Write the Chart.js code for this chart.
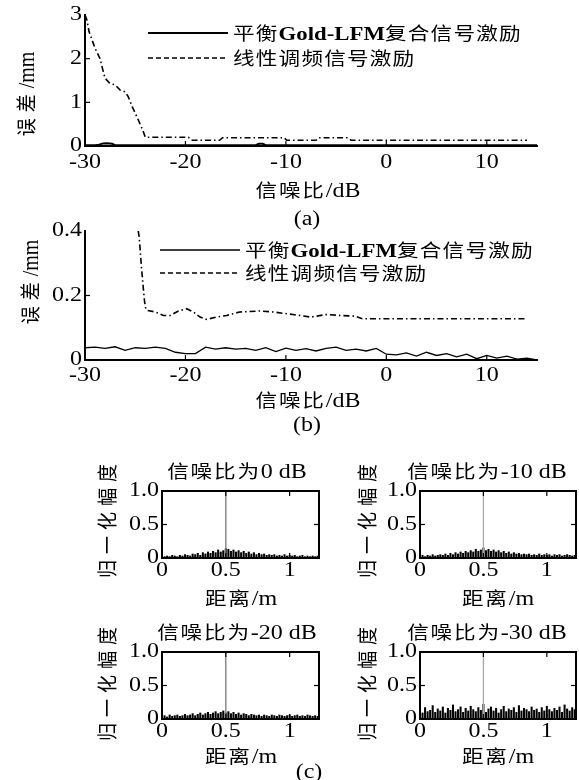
<!DOCTYPE html>
<html><head><meta charset="utf-8">
<script src="https://cdn.jsdelivr.net/npm/chart.js@4.4.0/dist/chart.umd.min.js"></script>
<style>
html,body{margin:0;padding:0;background:#fff;}
#wrap{position:relative;width:579px;height:780px;overflow:hidden;background:#fff;}
#wrap canvas{position:absolute;left:0;top:0;}
.t{position:absolute;white-space:nowrap;font-family:'Liberation Serif','Noto Sans CJK SC',serif;font-size:20px;color:#000;line-height:1;transform:translate(-50%,-50%) scaleX(1.2);}
.l{position:absolute;white-space:nowrap;font-family:'Liberation Serif','Noto Sans CJK SC',serif;font-size:19px;color:#000;line-height:1;transform-origin:0 50%;transform:translate(0,-50%) scaleX(1.2);}
.r{transform:translate(-50%,-50%) scaleX(1.15) rotate(-90deg);}
.cj{font-family:'Noto Sans CJK SC',sans-serif;font-size:18px;letter-spacing:1.5px;}
.r .cj{letter-spacing:6px;}
.l .cj{letter-spacing:1px;}
b{font-weight:bold;}
</style></head>
<body>
<div id="wrap">
  <!-- (a) -->
  <div class="l" style="left:233px;top:33px;"><span class="cj">平衡</span><b>Gold-LFM</b><span class="cj">复合信号激励</span></div>
  <div class="l" style="left:233px;top:58px;"><span class="cj">线性调频信号激励</span></div>
  <div class="t r" style="left:26px;top:94px;"><span class="cj">误差</span>/mm</div>
  <div class="t" style="left:308px;top:190px;"><span class="cj">信噪比</span>/dB</div>
  <div class="t" style="left:307px;top:218px;">(a)</div>
  <!-- (b) -->
  <div class="l" style="left:245px;top:250px;"><span class="cj">平衡</span><b>Gold-LFM</b><span class="cj">复合信号激励</span></div>
  <div class="l" style="left:245px;top:273px;"><span class="cj">线性调频信号激励</span></div>
  <div class="t r" style="left:30px;top:282px;"><span class="cj">误差</span>/mm</div>
  <div class="t" style="left:308px;top:400px;"><span class="cj">信噪比</span>/dB</div>
  <div class="t" style="left:307px;top:424px;">(b)</div>
  <!-- (c) -->
  <div class="t" style="left:237px;top:471px;"><span class="cj">信噪比为</span>0 dB</div>
  <div class="t" style="left:487px;top:471px;"><span class="cj">信噪比为</span>-10 dB</div>
  <div class="t" style="left:237px;top:632px;"><span class="cj">信噪比为</span>-20 dB</div>
  <div class="t" style="left:487px;top:632px;"><span class="cj">信噪比为</span>-30 dB</div>
  <div class="t r" style="left:107px;top:518px;"><span class="cj">归一化幅度</span></div>
  <div class="t r" style="left:367px;top:518px;"><span class="cj">归一化幅度</span></div>
  <div class="t r" style="left:107px;top:681px;"><span class="cj">归一化幅度</span></div>
  <div class="t r" style="left:367px;top:681px;"><span class="cj">归一化幅度</span></div>
  <div class="t" style="left:241px;top:598px;"><span class="cj">距离</span>/m</div>
  <div class="t" style="left:498px;top:598px;"><span class="cj">距离</span>/m</div>
  <div class="t" style="left:241px;top:756px;"><span class="cj">距离</span>/m</div>
  <div class="t" style="left:498px;top:756px;"><span class="cj">距离</span>/m</div>
  <div class="t" style="left:309px;top:771px;">(c)</div>
</div>
<script>
// ---------- data ----------
const seriesNames = ['平衡Gold-LFM复合信号激励', '线性调频信号激励'];

// (a) error vs SNR
const snrLfmA = [-30, -29.8, -29.6, -29.3, -29, -28.5, -28.3, -28, -27.5, -27, -26.5, -26, -25.7, -25.3, -25, -24.7, -24.4, -24.2, -24, -19.7, -19.4, -16.6, -16.3, -10.2, -9.9, -7, -6.7, -3.8, -3.5, 14];
const errLfmA = [3.0, 2.88, 2.62, 2.43, 2.24, 2.0, 1.81, 1.55, 1.43, 1.40, 1.28, 1.24, 1.13, 0.90, 0.75, 0.60, 0.44, 0.33, 0.20, 0.20, 0.13, 0.13, 0.19, 0.19, 0.13, 0.13, 0.19, 0.19, 0.13, 0.13];
const snrGoldA = [-30, -29, -28.6, -28.2, -27.8, -27.3, -27, -26, -14, -13, -12.7, -12.3, -12, -11, 15];
const errGoldA = [0.02, 0.02, 0.03, 0.06, 0.065, 0.05, 0.02, 0.02, 0.02, 0.02, 0.05, 0.05, 0.02, 0.02, 0.02];

// (b) error vs SNR (zoomed)
const snrLfmB = [-24.7, -24.6, -24.36, -24.1, -24.0, -23.86, -23.0, -22.2, -21.5, -20.7, -19.9, -19.2, -18.55, -17.9, -16.9, -15.9, -14.6, -12.6, -11.3, -9.3, -7.5, -6.0, -4.5, -3.1, -2.4, 14];
const errLfmB = [0.40, 0.38, 0.28, 0.19, 0.164, 0.154, 0.149, 0.138, 0.138, 0.152, 0.159, 0.149, 0.133, 0.126, 0.133, 0.138, 0.149, 0.152, 0.149, 0.141, 0.133, 0.141, 0.138, 0.136, 0.128, 0.128];
const snrGoldB = [-30, -29, -28, -27, -26, -25, -24, -23, -22, -21, -20, -19, -18, -17, -16, -15, -14, -13, -12, -11, -10, -9, -8, -7, -6, -5, -4, -3, -2, -1, 0, 1, 2, 3, 4, 5, 6, 7, 8, 9, 10, 11, 12, 13, 14, 15];
const errGoldB = [0.038, 0.040, 0.036, 0.041, 0.030, 0.038, 0.036, 0.040, 0.036, 0.024, 0.020, 0.020, 0.040, 0.034, 0.038, 0.034, 0.036, 0.030, 0.038, 0.026, 0.037, 0.030, 0.035, 0.028, 0.036, 0.040, 0.030, 0.034, 0.028, 0.036, 0.018, 0.016, 0.022, 0.012, 0.024, 0.014, 0.020, 0.010, 0.018, 0.004, 0.014, 0.006, 0.012, 0.003, 0.006, 0.000];

const snrTicks = [-30, -20, -10, 0, 10];
const snrTickLabels = ['-30', '-20', '-10', '0', '10'];
const errTicksA = [0, 1, 2, 3];
const errTickLabelsA = ['0', '1', '2', '3'];
const errTicksB = [0, 0.2, 0.4];
const errTickLabelsB = ['0', '0.2', '0.4'];

// (c) normalised correlation amplitude vs distance
const distC = [0, 0.02, 0.04, 0.06, 0.08, 0.1, 0.12, 0.14, 0.16, 0.18, 0.2, 0.22, 0.24, 0.26, 0.28, 0.3, 0.32, 0.34, 0.36, 0.38, 0.4, 0.42, 0.44, 0.46, 0.48, 0.5, 0.52, 0.54, 0.56, 0.58, 0.6, 0.62, 0.64, 0.66, 0.68, 0.7, 0.72, 0.74, 0.76, 0.78, 0.8, 0.82, 0.84, 0.86, 0.88, 0.9, 0.92, 0.94, 0.96, 0.98, 1, 1.02, 1.04, 1.06, 1.08, 1.1, 1.12, 1.14, 1.16, 1.18, 1.2, 1.22];
const ampSnr0 = [0.03, 0.02, 0.03, 0.02, 0.04, 0.03, 0.02, 0.04, 0.03, 0.05, 0.04, 0.03, 0.06, 0.05, 0.07, 0.04, 0.08, 0.06, 0.09, 0.07, 0.10, 0.08, 0.12, 0.09, 0.11, 0.14, 0.13, 0.10, 0.12, 0.09, 0.11, 0.08, 0.10, 0.07, 0.09, 0.06, 0.08, 0.05, 0.07, 0.05, 0.06, 0.04, 0.05, 0.04, 0.05, 0.03, 0.04, 0.03, 0.05, 0.03, 0.04, 0.03, 0.04, 0.02, 0.03, 0.04, 0.02, 0.03, 0.02, 0.03, 0.02, 0.03];
const ampSnrM10 = [0.03, 0.04, 0.02, 0.04, 0.03, 0.05, 0.03, 0.04, 0.05, 0.04, 0.06, 0.04, 0.07, 0.05, 0.08, 0.06, 0.09, 0.07, 0.10, 0.08, 0.11, 0.09, 0.13, 0.10, 0.12, 0.15, 0.11, 0.13, 0.10, 0.12, 0.09, 0.11, 0.08, 0.10, 0.07, 0.09, 0.06, 0.08, 0.06, 0.07, 0.05, 0.06, 0.05, 0.06, 0.04, 0.05, 0.04, 0.06, 0.04, 0.05, 0.04, 0.05, 0.03, 0.05, 0.04, 0.05, 0.03, 0.04, 0.05, 0.04, 0.03, 0.04];
const ampSnrM20 = [0.04, 0.05, 0.03, 0.06, 0.04, 0.05, 0.06, 0.04, 0.05, 0.07, 0.05, 0.06, 0.08, 0.05, 0.07, 0.09, 0.06, 0.08, 0.10, 0.07, 0.09, 0.11, 0.08, 0.10, 0.12, 0.09, 0.11, 0.08, 0.10, 0.07, 0.09, 0.06, 0.08, 0.07, 0.05, 0.07, 0.06, 0.05, 0.06, 0.04, 0.06, 0.05, 0.04, 0.06, 0.05, 0.04, 0.06, 0.05, 0.04, 0.05, 0.06, 0.04, 0.05, 0.06, 0.04, 0.05, 0.04, 0.06, 0.05, 0.04, 0.05, 0.04];
const ampSnrM30 = [0.14, 0.09, 0.17, 0.11, 0.13, 0.20, 0.10, 0.15, 0.12, 0.18, 0.09, 0.16, 0.13, 0.21, 0.11, 0.14, 0.18, 0.10, 0.16, 0.12, 0.19, 0.14, 0.11, 0.17, 0.13, 0.22, 0.10, 0.15, 0.18, 0.12, 0.16, 0.09, 0.14, 0.19, 0.11, 0.15, 0.13, 0.17, 0.10, 0.20, 0.12, 0.16, 0.14, 0.11, 0.18, 0.13, 0.15, 0.10, 0.17, 0.12, 0.19, 0.14, 0.11, 0.16, 0.13, 0.18, 0.10, 0.21, 0.15, 0.12, 0.17, 0.14];
const peakDist = [0.5, 0.5];
const peakAmp = [0, 1];
const distTicks = [0, 0.5, 1];
const distTickLabels = ['0', '0.5', '1'];
const ampTicks = [0, 0.5, 1];
const ampTickLabels = ['0', '0.5', '1.0'];

// ---------- helpers ----------
const pts = (xs, ys) => xs.map((x, i) => ({x: x, y: ys[i]}));
const wrap = document.getElementById('wrap');
const SX = 1.2;

const innerTicks = {
  id: 'innerTicks',
  afterDatasetsDraw(chart, args, o) {
    const {ctx, chartArea: a, scales: {x, y}} = chart;
    const L = o.len || 5;
    ctx.save();
    ctx.strokeStyle = '#000';
    ctx.lineWidth = 1.2;
    const seg = (x1, y1, x2, y2) => { ctx.beginPath(); ctx.moveTo(x1, y1); ctx.lineTo(x2, y2); ctx.stroke(); };
    x.ticks.forEach(t => {
      const p = x.getPixelForValue(t.value);
      if (Math.abs(p - a.left) < 2 || Math.abs(p - a.right) < 2) return;
      seg(p, a.bottom, p, a.bottom - L);
      if (o.box) seg(p, a.top, p, a.top + L);
    });
    y.ticks.forEach(t => {
      const p = y.getPixelForValue(t.value);
      if (Math.abs(p - a.bottom) < 2 || Math.abs(p - a.top) < 2) return;
      seg(a.left, p, a.left + L, p);
      if (o.box) seg(a.right, p, a.right - L, p);
    });
    if (o.box) {
      ctx.lineWidth = 2;
      ctx.strokeRect(a.left, a.top, a.right - a.left, a.bottom - a.top);
    }
    ctx.restore();
  }
};

// tick labels placed by the library's scales, drawn slightly widened like the scanned original
const wideTickLabels = {
  id: 'wideTickLabels',
  afterDraw(chart, args, o) {
    const {ctx, chartArea: a, scales: {x, y}} = chart;
    ctx.save();
    ctx.fillStyle = '#000';
    ctx.font = "20px 'Liberation Serif', serif";
    ctx.textBaseline = 'middle';
    ctx.textAlign = 'center';
    x.ticks.forEach((t, i) => {
      ctx.save();
      ctx.translate(x.getPixelForValue(t.value), a.bottom + o.xOff);
      ctx.scale(SX, 1);
      ctx.fillText(o.xLabels[i], 0, 0);
      ctx.restore();
    });
    ctx.textAlign = 'right';
    y.ticks.forEach((t, i) => {
      ctx.save();
      ctx.translate(a.left - o.yOff, y.getPixelForValue(t.value));
      ctx.scale(SX, 1);
      ctx.fillText(o.yLabels[i], 0, 0);
      ctx.restore();
    });
    ctx.restore();
  }
};

const legendLines = {
  id: 'legendLines',
  afterDraw(chart, args, o) {
    if (!o.items) return;
    const ctx = chart.ctx;
    ctx.save();
    ctx.strokeStyle = '#000';
    o.items.forEach(it => {
      ctx.setLineDash(it.dash || []);
      ctx.lineWidth = it.w;
      ctx.beginPath(); ctx.moveTo(it.x1, it.y); ctx.lineTo(it.x2, it.y); ctx.stroke();
    });
    ctx.restore();
  }
};

function makeChart(area, xs, ys, datasets, extra) {
  const cv = document.createElement('canvas');
  cv.width = 579; cv.height = 780;
  wrap.insertBefore(cv, wrap.firstChild);
  const YW = 60, XH = 40;
  return new Chart(cv, {
    type: 'line',
    data: {datasets: datasets},
    options: {
      responsive: false, animation: false, devicePixelRatio: 1, events: [],
      layout: {padding: {left: area.l - YW, top: area.t, right: 579 - area.r, bottom: 780 - area.b - XH}},
      elements: {point: {radius: 0}, line: {tension: 0}},
      plugins: {legend: {display: false}, tooltip: {enabled: false},
        innerTicks: {box: extra.box},
        legendLines: {items: extra.legend},
        wideTickLabels: {xLabels: xs.labels, yLabels: ys.labels, xOff: xs.off, yOff: ys.off}},
      scales: {
        x: {
          type: 'linear', min: xs.min, max: xs.max, offset: false,
          afterFit: s => { s.height = XH; },
          afterBuildTicks: s => { s.ticks = xs.ticks.map(v => ({value: v})); },
          ticks: {display: false},
          grid: {drawOnChartArea: false, drawTicks: false, offset: false},
          border: {display: !extra.box, color: '#000', width: 2}
        },
        y: {
          type: 'linear', min: ys.min, max: ys.max,
          afterFit: s => { s.width = YW; },
          afterBuildTicks: s => { s.ticks = ys.ticks.map(v => ({value: v})); },
          ticks: {display: false},
          grid: {drawOnChartArea: false, drawTicks: false},
          border: {display: !extra.box, color: '#000', width: 2}
        }
      }
    },
    plugins: [innerTicks, legendLines, wideTickLabels]
  });
}

const lfmDash = [6, 3, 1.5, 3];

// (a)
makeChart({l: 85, t: 15, r: 537, b: 146},
  {min: -30, max: 15, ticks: snrTicks, labels: snrTickLabels, off: 17},
  {min: 0, max: 3, ticks: errTicksA, labels: errTickLabelsA, off: 3},
  [
    {label: seriesNames[0], data: pts(snrGoldA, errGoldA), borderColor: '#000', borderWidth: 2},
    {label: seriesNames[1], data: pts(snrLfmA, errLfmA), borderColor: '#000', borderWidth: 1.6, borderDash: lfmDash}
  ],
  {box: false, legend: [{x1: 148, x2: 228, y: 33, w: 2}, {x1: 148, x2: 228, y: 58, w: 1.6, dash: [5, 3]}]});

// (b)
makeChart({l: 85, t: 231, r: 537, b: 360},
  {min: -30, max: 15, ticks: snrTicks, labels: snrTickLabels, off: 16},
  {min: 0, max: 0.4, ticks: errTicksB, labels: errTickLabelsB, off: 3},
  [
    {label: seriesNames[0], data: pts(snrGoldB, errGoldB), borderColor: '#000', borderWidth: 1.3},
    {label: seriesNames[1], data: pts(snrLfmB, errLfmB), borderColor: '#000', borderWidth: 1.6, borderDash: lfmDash}
  ],
  {box: false, legend: [{x1: 160, x2: 240, y: 250, w: 1.3}, {x1: 160, x2: 240, y: 273, w: 1.6, dash: [5, 3]}]});

// (c)
const cPanels = [
  {area: {l: 162, t: 491, r: 319, b: 558}, amp: ampSnr0, peak: '#7a7a7a'},
  {area: {l: 420, t: 491, r: 576, b: 558}, amp: ampSnrM10, peak: '#a8a8a8'},
  {area: {l: 162, t: 652, r: 319, b: 719}, amp: ampSnrM20, peak: '#7a7a7a'},
  {area: {l: 420, t: 652, r: 576, b: 719}, amp: ampSnrM30, peak: '#a8a8a8'}
];
cPanels.forEach(p => {
  makeChart(p.area,
    {min: 0, max: 1.23, ticks: distTicks, labels: distTickLabels, off: 13},
    {min: 0, max: 1, ticks: ampTicks, labels: ampTickLabels, off: 3},
    [
      {type: 'line', data: pts(peakDist, peakAmp), borderColor: p.peak, borderWidth: 1.3},
      {type: 'bar', data: pts(distC, p.amp), backgroundColor: '#000', barThickness: 1.4, borderWidth: 0}
    ],
    {box: true, legend: null});
});
</script>
</body></html>
